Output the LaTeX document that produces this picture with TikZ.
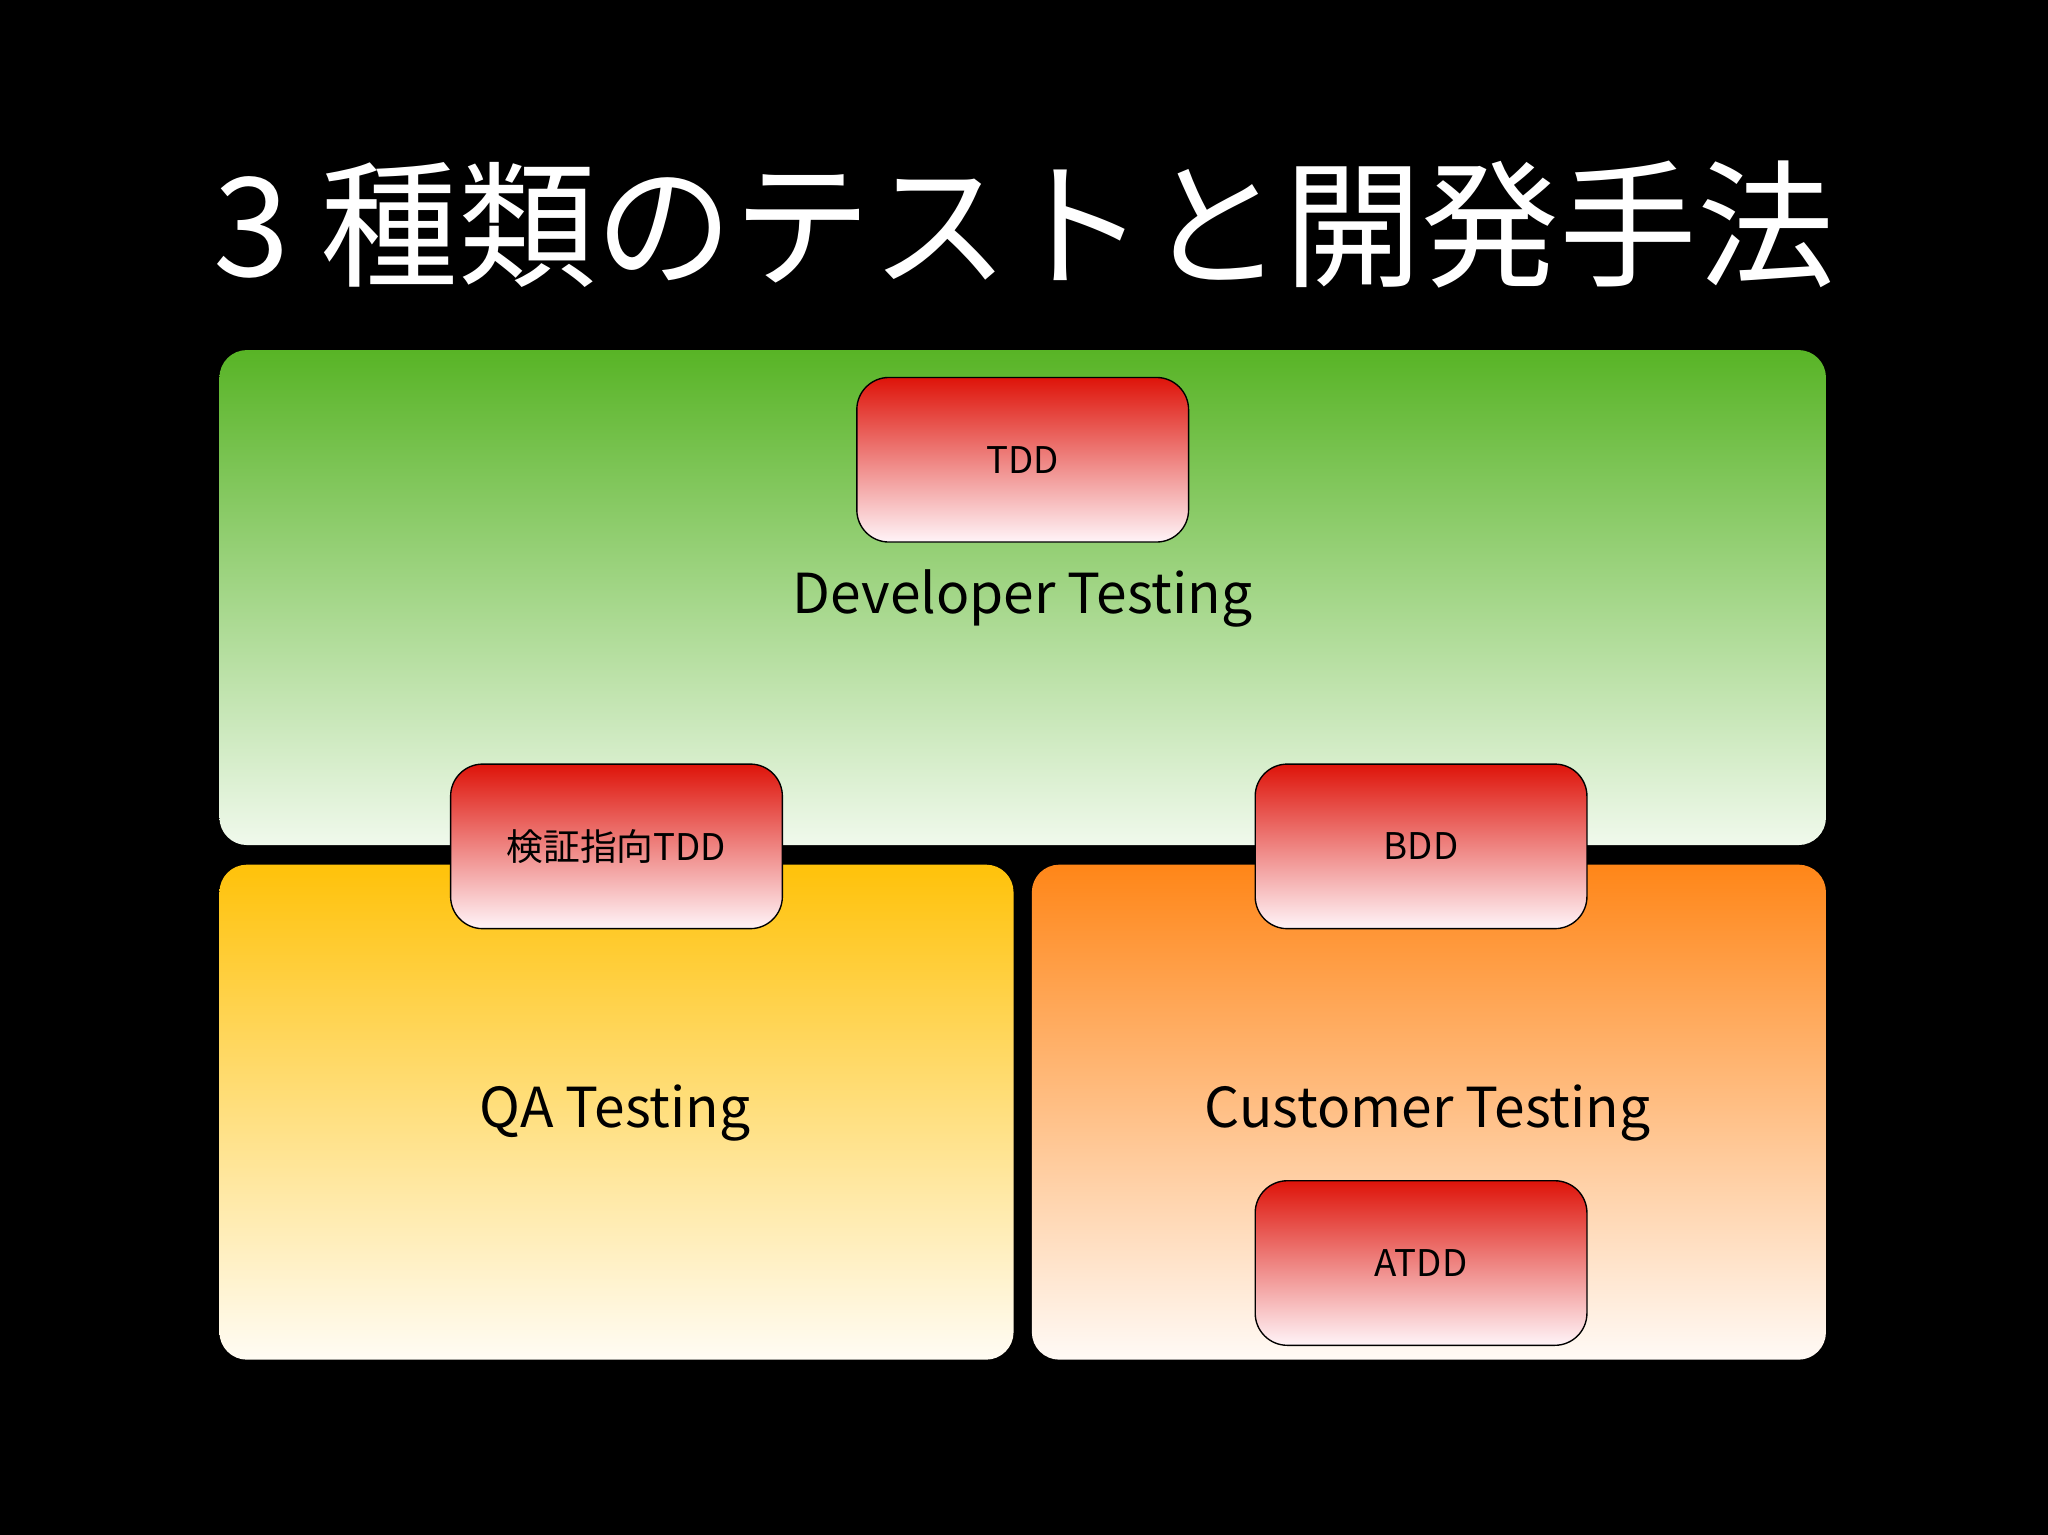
\documentclass[tikz,border=0pt]{standalone}
\usepackage{fontspec}
\setmainfont{Noto Sans CJK JP}
\begin{document}
\begin{tikzpicture}[x=0.02cm,y=-0.02cm,
  area/.style={rounded corners=12},
  redbox/.style={draw=black,line width=0.6pt,rounded corners=14,top color=red!85!black!95,bottom color={rgb,255:red,255;green,242;blue,246},middle color={rgb,255:red,236;green,110;blue,110}},
  lbl/.style={font=\fontsize{24}{28}\selectfont,text=black},
  blbl/.style={font=\fontsize{16}{20}\selectfont,text=black}]
\definecolor{gtop}{RGB}{88,180,38}
\definecolor{gbot}{RGB}{240,249,236}
\definecolor{ytop}{RGB}{255,194,10}
\definecolor{ybot}{RGB}{255,252,244}
\definecolor{otop}{RGB}{255,134,24}
\definecolor{obot}{RGB}{255,250,246}
\definecolor{rtop}{RGB}{222,20,10}
\definecolor{rbot}{RGB}{255,244,248}
\tikzset{redbox/.style={draw=black,line width=0.6pt,rounded corners=14,top color=rtop,bottom color=rbot}}
\fill[black] (0,0) rectangle (1568,1175);
\node[font=\fontsize{60}{66}\selectfont,text=white] (title) at (784,172) {3 種類のテストと開発手法};
\path[area,top color=gtop,bottom color=gbot] (168,268) rectangle (1398,647);
\path[area,top color=ytop,bottom color=ybot] (168,662) rectangle (776,1041);
\path[area,top color=otop,bottom color=obot] (790,662) rectangle (1398,1041);
\node[lbl] (dev) at (783,458) {Developer Testing};
\node[lbl] (qa) at (471,852) {QA Testing};
\node[lbl] (cust) at (1093,852) {Customer Testing};
\draw[redbox] (656,289) rectangle (910,415);
\node[blbl] (tdd) at (783,352) {TDD};
\draw[redbox] (345,585) rectangle (599,711);
\node[blbl] (ktdd) at (472,648) {検証指向TDD};
\draw[redbox] (961,585) rectangle (1215,711);
\node[blbl] (bdd) at (1088,648) {BDD};
\draw[redbox] (961,904) rectangle (1215,1030);
\node[blbl] (atdd) at (1088,967) {ATDD};
\end{tikzpicture}
\end{document}
